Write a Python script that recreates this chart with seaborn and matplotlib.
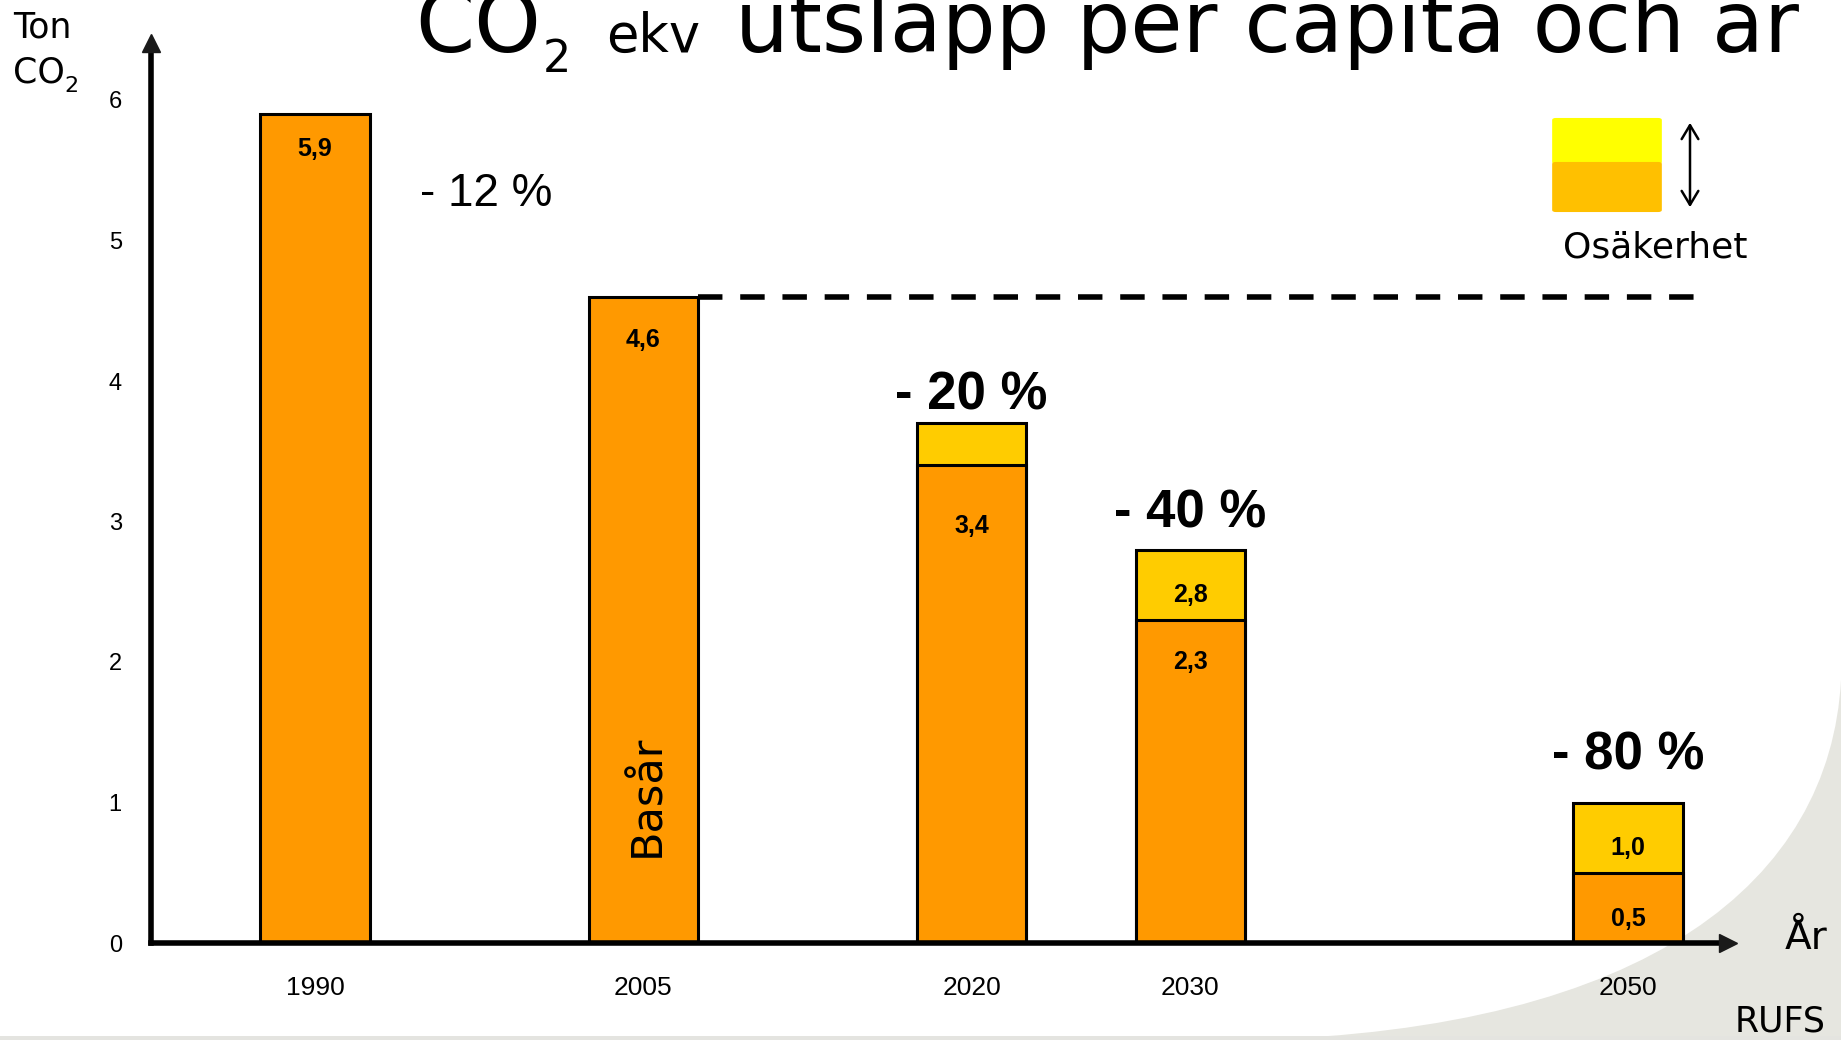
import matplotlib
matplotlib.use("Agg")
import matplotlib.pyplot as plt
import seaborn as sns
import pandas as pd
from matplotlib.patches import FancyBboxPatch, PathPatch, Rectangle, FancyArrowPatch
from matplotlib.path import Path

# data
years = [1990, 2005, 2020, 2030, 2050]
base_vals = [5.9, 4.6, 3.4, 2.3, 0.5]
base_labels = ['5,9', '4,6', '3,4', '2,3', '0,5']
unc_years = [2020, 2030, 2050]
unc_top = [3.7, 2.8, 1.0]
unc_labels = ['', '2,8', '1,0']
pct_years = [1997.8, 2020, 2030, 2050]
pct_labels = ['- 12 %', '- 20 %', '- 40 %', '- 80 %']
yticks = [0, 1, 2, 3, 4, 5, 6]
base_year_value = 4.6

sns.set_theme(style='white')
plt.rcParams['font.family'] = ['Liberation Sans', 'DejaVu Sans']
plt.rcParams['text.color'] = 'black'
plt.rcParams['xtick.color'] = 'black'
plt.rcParams['ytick.color'] = 'black'

W, H = 1841, 1040
fig = plt.figure(figsize=(W / 100, H / 100), dpi=100)


def px(x, y):
    return x / W, 1 - y / H


# grey slide decoration bottom right
verts = [(1250, 1040), (1650, 1030), (1830, 880), (1841, 680), (1841, 1040), (1250, 1040)]
codes = [Path.MOVETO, Path.CURVE4, Path.CURVE4, Path.CURVE4, Path.LINETO, Path.CLOSEPOLY]
verts = [px(*v) for v in verts]
fig.patches.append(PathPatch(Path(verts, codes), transform=fig.transFigure,
                             facecolor='#E6E6E0', edgecolor='none', zorder=-5))
fig.patches.append(Rectangle(px(0, 1040), 1, 4 / H, transform=fig.transFigure,
                             facecolor='#E4E4E0', edgecolor='none', zorder=-5))

# axes placed so 1 year ~ 21.9 px, 1 ton ~ 140.5 px
x0, y0 = px(151, 943)
ax = fig.add_axes([x0, y0, (1728 - 151) / W, 900 / H])
ax.patch.set_alpha(0)
ax.set_zorder(2)

df_unc = pd.DataFrame({'year': unc_years, 'value': unc_top})
df_base = pd.DataFrame({'year': years, 'value': base_vals})

sns.barplot(data=df_unc, x='year', y='value', native_scale=True, width=0.5,
            color='#FFCC00', saturation=1, edgecolor='black', linewidth=2.2,
            errorbar=None, ax=ax)
sns.barplot(data=df_base, x='year', y='value', native_scale=True, width=0.5,
            color='#FF9900', saturation=1, edgecolor='black', linewidth=2.2,
            errorbar=None, ax=ax)

ax.set_xlim(1982.5, 1982.5 + (1728 - 151) / 21.88)
ax.set_ylim(0, 900 / 140.5)

# value labels inside bars
for yr, v, lab, off in zip(years, base_vals, base_labels, [-25, -31, -44, -30, -33]):
    ax.annotate(lab, (yr, v), xytext=(0, off), textcoords='offset points',
                ha='center', va='center', fontsize=18, fontweight='bold')
for yr, v, lab in zip(unc_years, unc_top, unc_labels):
    if lab:
        ax.annotate(lab, (yr, v), xytext=(0, -33), textcoords='offset points',
                    ha='center', va='center', fontsize=18, fontweight='bold')

# reduction labels
ax.text(pct_years[0], 5.33, pct_labels[0], ha='center', va='center', fontsize=33)
for yr, lab, top, off in zip(pct_years[1:], pct_labels[1:], unc_top, [20, 26, 34]):
    ax.annotate(lab, (yr, top), xytext=(0, off), textcoords='offset points',
                ha='center', va='center', fontsize=38, fontweight='bold')

# base year line
ax.hlines(base_year_value, 2007.5, 2053.2, colors='black', lw=4,
          linestyles=(0, (4.4, 3.2)), zorder=3)
ax.text(2005.2, 1.05, 'Basår', rotation=90, ha='center', va='center',
        fontsize=31, family='DejaVu Sans')

# axes as arrows
sns.despine(ax=ax, top=True, right=True)
for s in ['left', 'bottom']:
    ax.spines[s].set_linewidth(4)
    ax.spines[s].set_color('black')
ax.plot(1, 0, '>k', ms=13, transform=ax.get_yaxis_transform(), clip_on=False, zorder=5)
ax.plot(0, 1, '^k', ms=13, transform=ax.transAxes, clip_on=False, zorder=5)

ax.set_xticks(years)
ax.set_xticklabels([str(y) for y in years])
ax.set_yticks(yticks)
ax.set_yticklabels([str(t) for t in yticks])
ax.tick_params(axis='x', length=0, pad=24, labelsize=19)
ax.tick_params(axis='y', length=0, pad=21, labelsize=17)
ax.set_xlabel('')
ax.set_ylabel('')

# title
vf = 'DejaVu Sans'
fig.text(*px(415, 52), 'CO', fontsize=61, family=vf, va='baseline')
fig.text(*px(543, 72), '2', fontsize=32, family=vf, va='baseline')
fig.text(*px(606, 52), 'ekv', fontsize=38, family=vf, va='baseline')
fig.text(*px(735, 52), 'utsläpp per capita och år', fontsize=61, family=vf, va='baseline')

# unit label
fig.text(*px(13, 38), 'Ton', fontsize=25, family=vf, va='baseline')
fig.text(*px(13, 83), 'CO', fontsize=25, family=vf, va='baseline')
fig.text(*px(64, 92), '2', fontsize=16, family=vf, va='baseline')

# axis end label and source
fig.text(*px(1785, 949), 'År', fontsize=28, family=vf, va='baseline')
fig.text(*px(1735, 1032), 'RUFS', fontsize=25, family=vf, va='baseline')

# uncertainty legend
fig.patches.append(FancyBboxPatch(px(1554, 163), 106 / W, 44 / H,
                                  boxstyle='round,pad=0.001,rounding_size=0.002',
                                  transform=fig.transFigure, facecolor='#FFFF00',
                                  edgecolor='none'))
fig.patches.append(FancyBboxPatch(px(1554, 211), 106 / W, 48 / H,
                                  boxstyle='round,pad=0.001,rounding_size=0.002',
                                  transform=fig.transFigure, facecolor='#FFC000',
                                  edgecolor='none'))
fig.add_artist(FancyArrowPatch(px(1690, 120), px(1690, 210),
                               transform=fig.transFigure,
                               arrowstyle='<->,head_length=10,head_width=6',
                               color='black', lw=1.8))
fig.text(*px(1655, 258), 'Osäkerhet', fontsize=26, family=vf, va='baseline', ha='center')

fig.savefig('out.png', dpi=100)
